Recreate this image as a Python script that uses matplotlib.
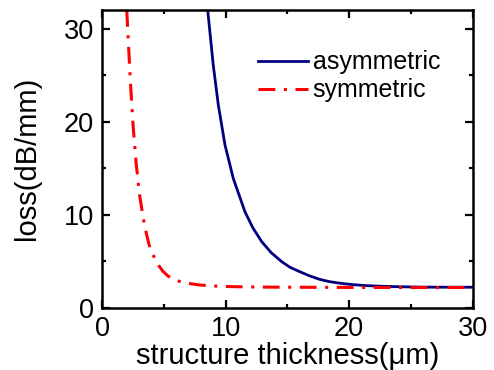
import matplotlib
matplotlib.use("Agg")
import matplotlib.pyplot as plt

plt.rcParams['font.family'] = ['Liberation Sans', 'DejaVu Sans']

# values
asym_x = [8.55, 9.0, 9.41, 9.95, 10.62, 11.57, 12.2, 12.92, 13.7, 14.54, 15.2, 16.0, 16.8, 17.6, 18.4, 19.3, 20.3, 21.4, 22.7, 24.1, 26.0, 28.0, 30.0]
asym_y = [32.0, 26.1, 21.8, 17.5, 13.9, 10.3, 8.6, 7.1, 5.9, 4.95, 4.35, 3.87, 3.42, 3.05, 2.8, 2.62, 2.48, 2.37, 2.3, 2.25, 2.21, 2.2, 2.2]

sym_x = [2.0, 2.27, 2.4, 2.53, 2.75, 3.02, 3.34, 3.6, 3.88, 4.3, 4.6, 4.96, 5.35, 5.77, 6.58, 7.93, 9.0, 10.6, 12.5, 14.6, 20.0, 25.0, 30.0]
sym_y = [32.0, 25.0, 22.0, 19.3, 15.7, 12.3, 9.6, 7.9, 6.4, 5.2, 4.5, 3.87, 3.4, 3.05, 2.69, 2.44, 2.33, 2.26, 2.22, 2.2, 2.18, 2.17, 2.17]

fig = plt.figure(figsize=(4.94, 3.70), dpi=100)
ax = fig.add_axes([0.2065, 0.1684, 0.7505, 0.8046])

ax.plot(asym_x, asym_y, color='#000080', lw=2, label='asymmetric')
ax.plot(sym_x, sym_y, color='#ff0000', lw=2.2, linestyle=(0, (5.5, 2.8, 1, 2.8)), label='symmetric')

ax.set_xlim(0, 30)
ax.set_ylim(0, 32)
ax.set_xticks([0, 10, 20, 30])
ax.set_yticks([0, 10, 20, 30])
ax.set_xticks([5, 15, 25], minor=True)
ax.set_yticks([5, 15, 25], minor=True)
ax.tick_params(which='both', direction='in', top=True, right=True, labelsize=19.5, width=1.6, pad=6)
ax.tick_params(which='major', length=6)
ax.tick_params(which='minor', length=3)
for s in ax.spines.values():
    s.set_linewidth(1.8)

ax.set_xlabel('structure thickness(μm)', fontsize=21, labelpad=0)
ax.set_ylabel('loss(dB/mm)', fontsize=21, labelpad=16)

ax.legend(loc='upper left', bbox_to_anchor=(0.393, 0.898), frameon=False, fontsize=18,
          handlelength=2.0, handletextpad=0.2, labelspacing=0.16, borderaxespad=0)

fig.savefig('out.png', dpi=100)
